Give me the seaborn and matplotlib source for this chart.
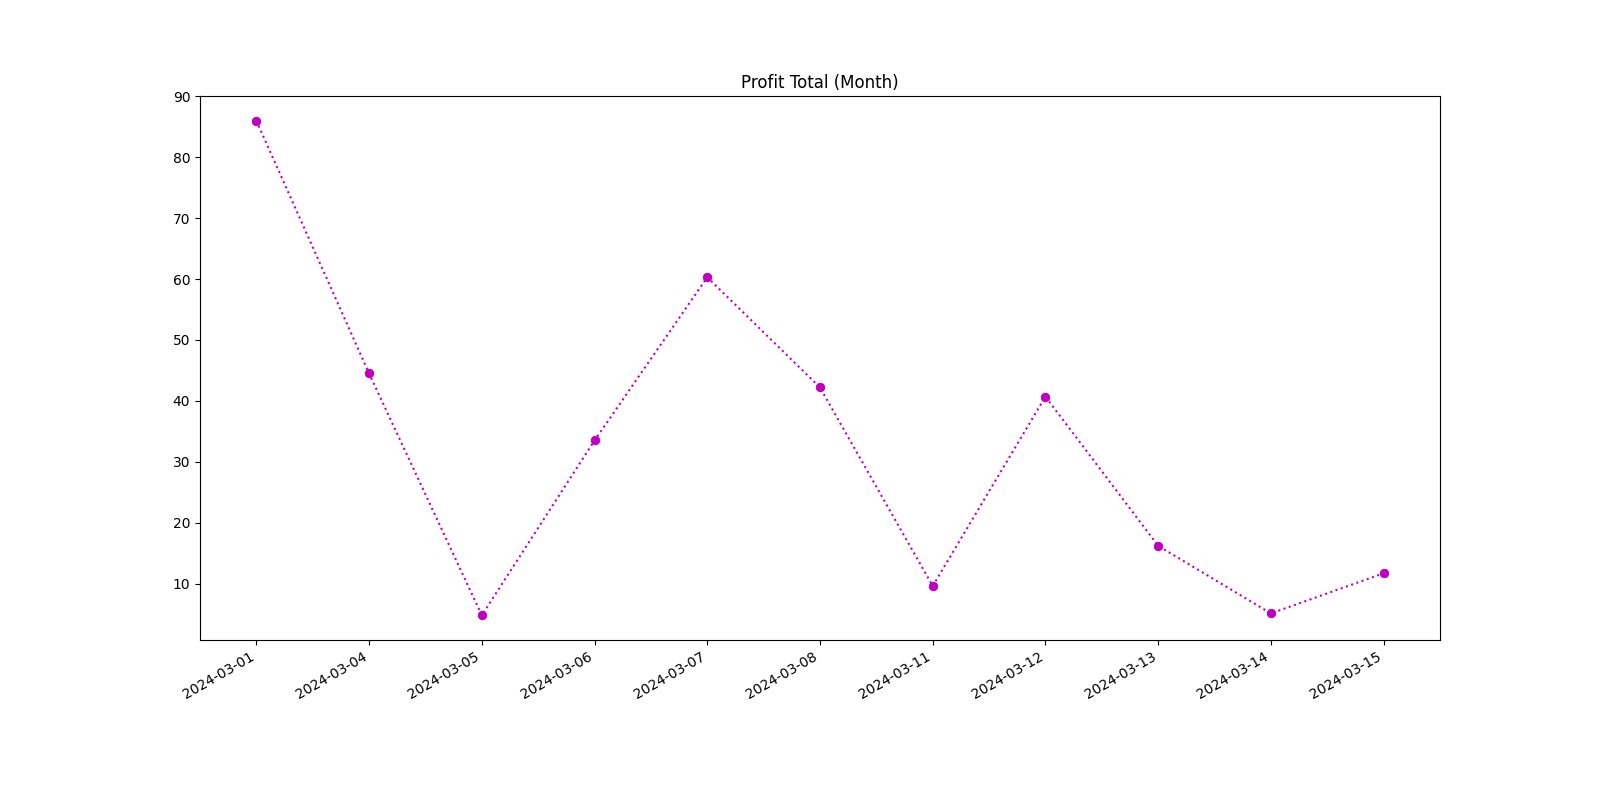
import matplotlib
matplotlib.use("Agg")
from matplotlib import pyplot as plt
import seaborn as sns
import pandas as pd

dates = ["2024-03-01", "2024-03-04", "2024-03-05", "2024-03-06", "2024-03-07",
         "2024-03-08", "2024-03-11", "2024-03-12", "2024-03-13", "2024-03-14",
         "2024-03-15"]
profit = [86.0, 44.5, 4.8, 33.5, 60.3, 42.2, 9.6, 40.7, 16.2, 5.1, 11.7]

df = pd.DataFrame({"date": dates, "profit": profit})

fig, ax = plt.subplots(figsize=(16, 8), dpi=100)
sns.lineplot(data=df, x="date", y="profit", ax=ax, color="m", linestyle=":",
             marker="o", markersize=6, markeredgecolor="m", sort=False)

ax.set_title("Profit Total (Month)")
ax.set_xlabel("")
ax.set_ylabel("")
ax.set_xlim(-0.5, len(dates) - 0.5)
plt.setp(ax.get_xticklabels(), rotation=30, ha="right")
fig.subplots_adjust(left=0.125, right=0.9, bottom=0.2, top=0.88)

plt.savefig("out.png", dpi=100)
